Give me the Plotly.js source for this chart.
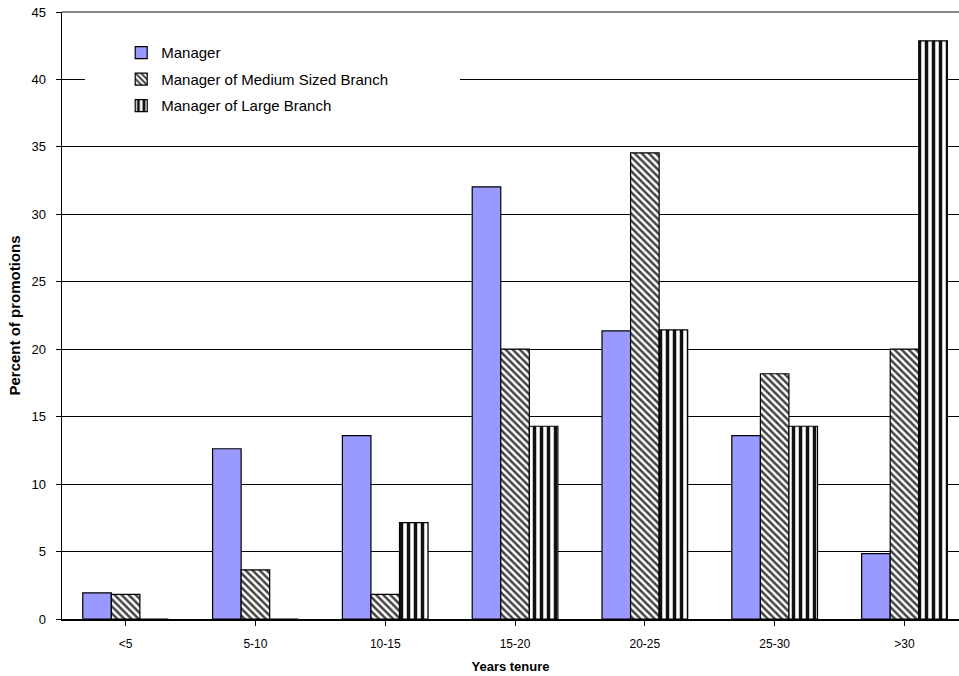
<!DOCTYPE html>
<html>
<head>
<meta charset="utf-8">
<script src="https://cdn.plot.ly/plotly-3.0.1.min.js"></script>
<style>html,body{margin:0;padding:0;background:#fff;}#chart{width:959px;height:676px;}</style>
</head>
<body>
<div id="chart"></div>
<script>
const categories = ["<5", "5-10", "10-15", "15-20", "20-25", "25-30", ">30"];
const manager = [1.94, 12.62, 13.59, 32.04, 21.36, 13.59, 4.85];
const managerMedium = [1.82, 3.64, 1.82, 20.0, 34.55, 18.18, 20.0];
const managerLarge = [0, 0, 7.14, 14.29, 21.43, 14.29, 42.86];
const seriesNames = ["Manager", "Manager of Medium Sized Branch", "Manager of Large Branch"];
const yTicks = [0, 5, 10, 15, 20, 25, 30, 35, 40, 45];

const FONT = "Arial, 'Liberation Sans', sans-serif";
const xIdx = categories.map((c, i) => i);

const traces = [
  {
    type: "bar", name: seriesNames[0], x: xIdx, y: manager, legendgroup: "a",
    marker: {color: "#9999FF", line: {color: "#000", width: 1.2}}
  },
  {
    type: "bar", name: seriesNames[1], x: xIdx, y: managerMedium, legendgroup: "b",
    marker: {color: "#ffffff", line: {color: "#000", width: 1.2},
      pattern: {shape: "\\", fgcolor: "#444", bgcolor: "#fff", size: 5, solidity: 0.5, fillmode: "replace"}}
  },
  {
    type: "bar", name: seriesNames[2], x: xIdx, y: managerLarge, legendgroup: "c",
    marker: {color: "#ffffff", line: {color: "#000", width: 1.2},
      pattern: {shape: "|", fgcolor: "#111", bgcolor: "#fff", size: 7, solidity: 0.5, fillmode: "replace"}}
  }
];

const layout = {
  width: 959, height: 676,
  margin: {l: 62, r: 0, t: 12, b: 57},
  paper_bgcolor: "#fff", plot_bgcolor: "#fff",
  font: {family: FONT, size: 12, color: "#000"},
  barmode: "group", bargap: 0.34, bargroupgap: 0,
  showlegend: true,
  legend: {x: 0.066, y: 0.96, xanchor: "left", yanchor: "top",
    bgcolor: "rgba(0,0,0,0)", font: {family: FONT, size: 15, color: "#000"},
    tracegroupgap: 4, traceorder: "grouped"},
  xaxis: {
    range: [-0.49, 6.42], tickmode: "array", tickvals: xIdx, ticktext: categories,
    tickson: "boundaries", ticks: "outside", ticklen: 5, tickcolor: "#000", tickwidth: 1,
    showline: true, linecolor: "#000", linewidth: 1.5, showgrid: false, zeroline: false,
    tickfont: {family: FONT, size: 12}, ticklabelstandoff: 8,
    title: {text: "<b>Years tenure</b>", font: {family: FONT, size: 13}, standoff: 12}
  },
  yaxis: {
    range: [0, 45], tickmode: "array", tickvals: yTicks,
    ticks: "outside", ticklen: 5, tickcolor: "#000", tickwidth: 1,
    showline: true, linecolor: "#000", linewidth: 1.5,
    showgrid: true, gridcolor: "#000", gridwidth: 1, zeroline: false,
    tickfont: {family: FONT, size: 13}, ticklabelstandoff: 7,
    title: {text: "<b>Percent of promotions</b>", font: {family: FONT, size: 15}, standoff: 7}
  },
  shapes: [
    {type: "rect", xref: "paper", yref: "paper", x0: 0.0256, x1: 0.4437, y0: 0.822, y1: 0.954,
      fillcolor: "#fff", line: {width: 0}, layer: "above"},
    {type: "line", xref: "paper", yref: "paper", x0: 0, x1: 1, y0: 1, y1: 1,
      line: {color: "#888", width: 2}, layer: "above"}
  ]
};

Plotly.newPlot("chart", traces, layout, {displayModeBar: false, staticPlot: true});
</script>
</body>
</html>
